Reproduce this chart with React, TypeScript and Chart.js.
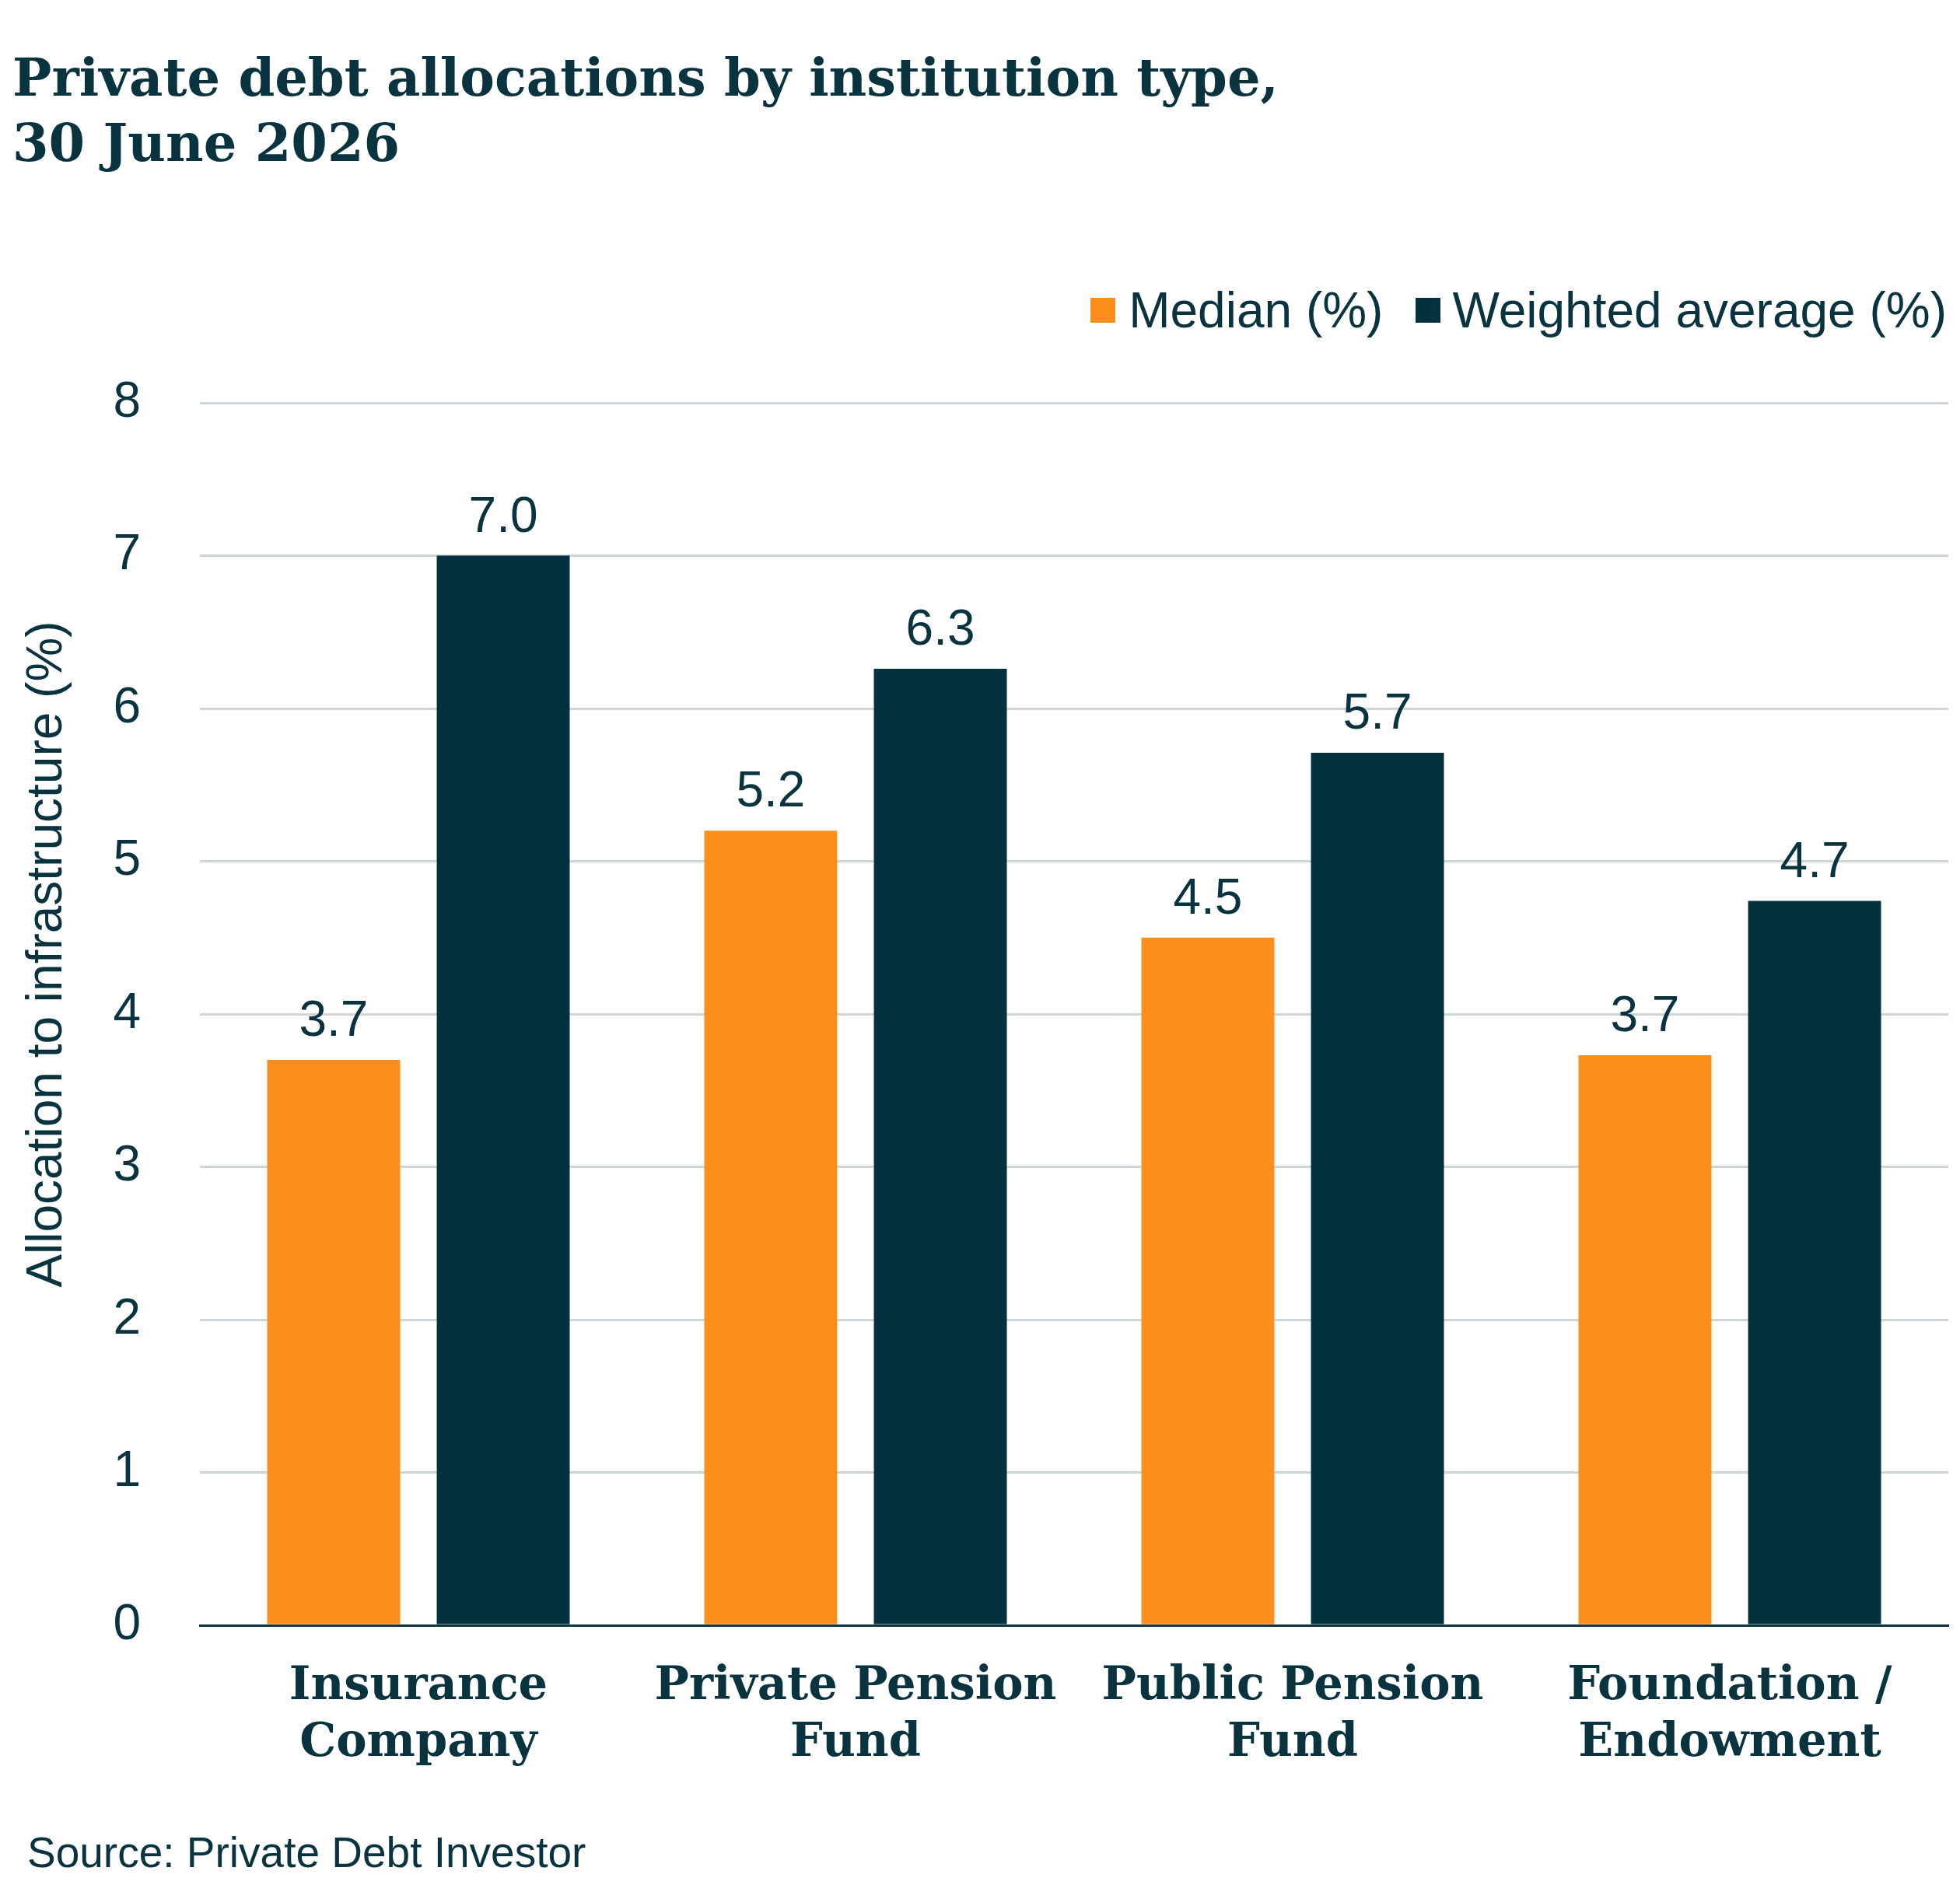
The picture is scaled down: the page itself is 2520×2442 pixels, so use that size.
import React, { useEffect, useRef } from "react";
import { Chart, registerables } from "chart.js";

Chart.register(...registerables);

const categories = [
   ["Insurance", "Company"],
   ["Private Pension", "Fund"],
   ["Public Pension", "Fund"],
   ["Foundation /", "Endowment"],
];
const medianValues = [3.7, 5.2, 4.5, 3.73];
const weightedValues = [7.0, 6.26, 5.71, 4.74];
const seriesNames = ["Median (%)", "Weighted average (%)"];

const ORANGE = "#FC8E1E";
const DARK = "#03313D";
const TEXT = "#0A3340";
const GRID = "#CDD5D8";
const SANS = '"Liberation Sans", Arial, sans-serif';
const SERIF = '"DejaVu Serif", Georgia, serif';

// values above each bar
const valueLabels = {
   id: "valueLabels",
   afterDatasetsDraw(chart: Chart) {
      const { ctx } = chart;
      ctx.save();
      ctx.font = `64px ${SANS}`;
      ctx.fillStyle = TEXT;
      ctx.textAlign = "center";
      ctx.textBaseline = "alphabetic";
      chart.data.datasets.forEach((ds, i) => {
         const meta = chart.getDatasetMeta(i);
         meta.data.forEach((bar: any, j: number) => {
            const v = ds.data[j] as number;
            ctx.fillText(v.toFixed(1), bar.x, bar.y - 31);
         });
      });
      ctx.restore();
   },
};

const App = () => {
   const chartRef = useRef<HTMLCanvasElement | null>(null);

   useEffect(() => {
      if (!chartRef.current) return;
      const chart = new Chart(chartRef.current, {
         type: "bar",
         data: {
            labels: categories,
            datasets: [
               {
                  label: seriesNames[0],
                  data: medianValues,
                  backgroundColor: ORANGE,
                  categoryPercentage: 0.776,
                  barPercentage: 0.784,
               },
               {
                  label: seriesNames[1],
                  data: weightedValues,
                  backgroundColor: DARK,
                  categoryPercentage: 0.776,
                  barPercentage: 0.784,
               },
            ],
         },
         options: {
            animation: false,
            responsive: true,
            maintainAspectRatio: false,
            devicePixelRatio: 1,
            layout: { padding: { top: 518, right: 15, left: 0, bottom: 0 } },
            plugins: {
               legend: { display: false },
               tooltip: { enabled: false },
            },
            scales: {
               x: {
                  grid: { display: false },
                  border: { display: true, color: TEXT, width: 3 },
                  ticks: {
                     color: TEXT,
                     padding: 35,
                     maxRotation: 0,
                     autoSkip: false,
                     font: { family: SERIF, size: 59, weight: "bold", lineHeight: "73px" },
                  },
                  afterFit: (scale: any) => {
                     scale.height = 352;
                  },
               },
               y: {
                  min: 0,
                  max: 8,
                  ticks: {
                     stepSize: 1,
                     color: TEXT,
                     padding: 76,
                     font: { family: SANS, size: 64 },
                  },
                  grid: { color: GRID, lineWidth: 3, drawTicks: false },
                  border: { display: false },
                  afterFit: (scale: any) => {
                     scale.width = 257;
                  },
               },
            },
         },
         plugins: [valueLabels],
      });
      return () => chart.destroy();
   }, []);

   return (
      <div
         style={{
            position: "absolute",
            left: 0,
            top: 0,
            width: 2520,
            height: 2442,
            background: "#fff",
            color: TEXT,
            overflow: "hidden",
         }}
      >
         <div
            style={{
               position: "absolute",
               left: 16,
               top: 58,
               fontFamily: SERIF,
               fontWeight: "bold",
               fontSize: 67,
               lineHeight: "84px",
               whiteSpace: "nowrap",
            }}
         >
            Private debt allocations by institution type,
            <br />
            30 June 2026
         </div>

         <div
            style={{
               position: "absolute",
               right: 17,
               top: 367,
               display: "flex",
               alignItems: "center",
               fontFamily: SANS,
               fontSize: 64,
               lineHeight: "64px",
               whiteSpace: "nowrap",
            }}
         >
            <span style={{ width: 32, height: 32, background: ORANGE, marginRight: 17 }} />
            <span style={{ marginRight: 42 }}>{seriesNames[0]}</span>
            <span style={{ width: 32, height: 32, background: DARK, marginRight: 15 }} />
            <span>{seriesNames[1]}</span>
         </div>

         <div
            style={{
               position: "absolute",
               left: 57,
               top: 1227,
               transform: "translate(-50%, -50%) rotate(-90deg)",
               fontFamily: SANS,
               fontSize: 64,
               lineHeight: "64px",
               whiteSpace: "nowrap",
            }}
         >
            Allocation to infrastructure (%)
         </div>

         <canvas
            ref={chartRef}
            style={{ position: "absolute", left: 0, top: 0, width: 2520, height: 2442 }}
         />

         <div
            style={{
               position: "absolute",
               left: 35,
               top: 2355,
               fontFamily: SANS,
               fontSize: 55,
               lineHeight: "55px",
               whiteSpace: "nowrap",
            }}
         >
            Source: Private Debt Investor
         </div>
      </div>
   );
};

export default App;
